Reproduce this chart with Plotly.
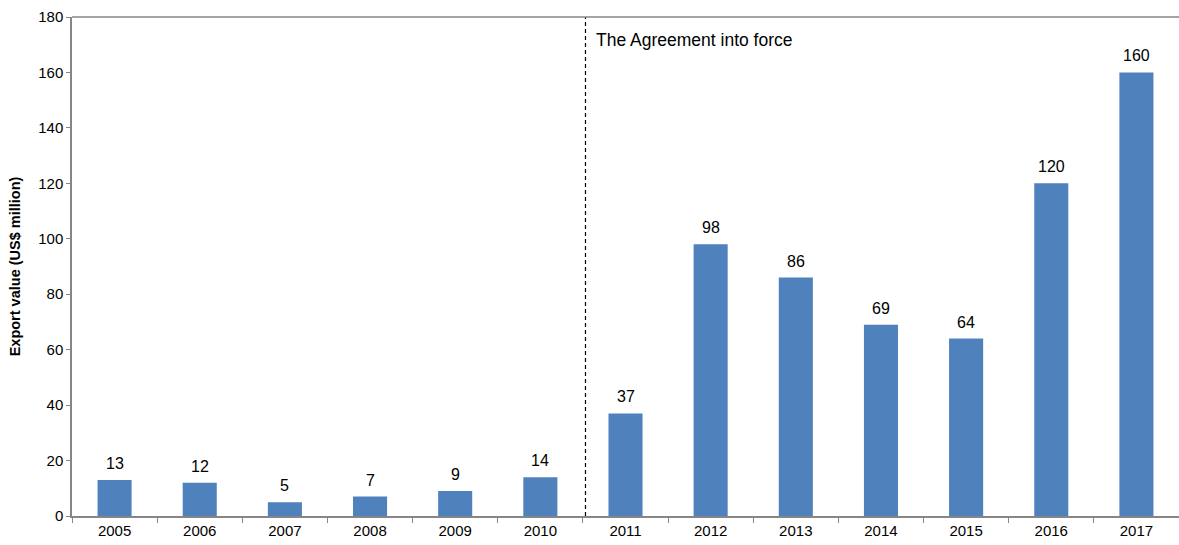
import plotly.graph_objects as go

years = ["2005", "2006", "2007", "2008", "2009", "2010", "2011",
         "2012", "2013", "2014", "2015", "2016", "2017"]
export_values = [13, 12, 5, 7, 9, 14, 37, 98, 86, 69, 64, 120, 160]
y_ticks = [0, 20, 40, 60, 80, 100, 120, 140, 160, 180]
agreement_label = "The Agreement into force"
y_title = "Export value (US$ million)"

FONT = "Liberation Sans, Arial, sans-serif"
AXIS_GREY = "#868686"

fig = go.Figure(
    go.Bar(
        x=years,
        y=export_values,
        width=0.4,
        marker=dict(color="#4F81BD", line=dict(width=0)),
        hoverinfo="x+y",
    )
)

# value labels sitting a little above each bar (category index positions)
for i, val in enumerate(export_values):
    fig.add_annotation(x=i, y=val, xref="x", yref="y",
                       text=str(val), showarrow=False,
                       yanchor="bottom", yshift=6,
                       font=dict(family=FONT, size=16, color="#000000"))

# dashed divider between 2010 and 2011
fig.add_shape(type="line", xref="x", yref="paper",
              x0=5.53, x1=5.53, y0=0, y1=1,
              line=dict(color="#000000", width=1.2, dash="4px,3px"))
# top frame line
fig.add_shape(type="line", xref="paper", yref="paper",
              x0=0, x1=1, y0=1, y1=1,
              line=dict(color=AXIS_GREY, width=1.5))

fig.add_annotation(xref="x", yref="paper", x=5.5, y=1,
                   xanchor="left", yanchor="top", xshift=11, yshift=-11,
                   text=agreement_label, showarrow=False,
                   font=dict(family=FONT, size=17.5, color="#000000"))

fig.update_layout(
    width=1179, height=545,
    margin=dict(l=72, r=0, t=17, b=29),
    paper_bgcolor="white", plot_bgcolor="white",
    showlegend=False,
    font=dict(family=FONT, color="#000000"),
    xaxis=dict(
        type="category", range=[-0.5, 12.5],
        showline=True, linecolor=AXIS_GREY, linewidth=1.5,
        ticks="outside", tickson="boundaries", ticklen=5,
        tickcolor=AXIS_GREY, tickwidth=1,
        tickfont=dict(family=FONT, size=15, color="#000000"),
        showgrid=False,
    ),
    yaxis=dict(
        range=[0, 180], tickvals=y_ticks,
        showline=True, linecolor=AXIS_GREY, linewidth=1.5,
        ticks="outside", ticklen=4, tickcolor=AXIS_GREY,
        tickfont=dict(family=FONT, size=15, color="#000000"),
        showgrid=False, zeroline=False,
        title=dict(text="<b>" + y_title + "</b>", standoff=14,
                   font=dict(family=FONT, size=14.5, color="#000000")),
    ),
)

fig.write_html("out.html")
